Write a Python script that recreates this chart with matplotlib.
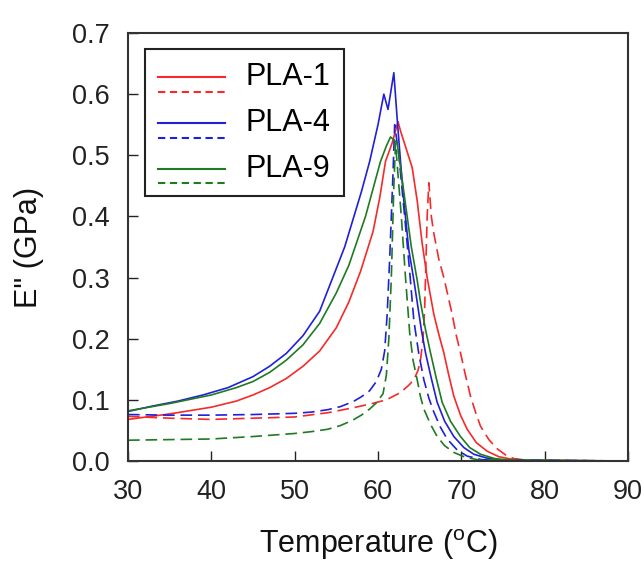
import matplotlib
matplotlib.use("Agg")
import matplotlib.pyplot as plt
from matplotlib.lines import Line2D
from matplotlib.legend_handler import HandlerBase

plt.rcParams['font.family'] = ['Liberation Sans', 'DejaVu Sans']
plt.rcParams['mathtext.fontset'] = 'custom'
plt.rcParams['mathtext.rm'] = 'Liberation Sans'

# ---------------- data ----------------
labels = ["PLA-1", "PLA-4", "PLA-9"]

t_pla1_solid = [30, 35, 40, 43, 45, 47, 49, 51, 53, 55, 56.5, 57.9, 59.4, 60.2, 60.9, 61.7, 62.4,
                62.7, 63.4, 64.1, 64.7, 65.3, 65.9, 66.3, 66.7, 67.3, 67.9, 68.5, 69.1, 69.9,
                70.7, 71.8, 73.1, 74.5, 76, 78, 90]
e_pla1_solid = [0.068, 0.077, 0.088, 0.098, 0.108, 0.120, 0.135, 0.155, 0.180, 0.218, 0.26, 0.31,
                0.375, 0.43, 0.49, 0.52, 0.555,
                0.54, 0.51, 0.48, 0.426, 0.356, 0.30, 0.27, 0.24, 0.207, 0.177, 0.14, 0.106, 0.075,
                0.052, 0.030, 0.016, 0.007, 0.003, 0.001, 0.0]

t_pla1_dash = [30, 35, 40, 45, 50, 54, 57, 59, 61, 62.7, 63.7, 64.3, 64.8, 65.1, 65.4, 65.6, 65.9,
               66.1, 66.4, 66.7, 67.3, 67.9, 68.4, 68.9, 69.4, 69.9, 70.5, 71.1, 71.7, 72.3,
               73.3, 74.3, 75.3, 76.3, 78, 90]
e_pla1_dash = [0.073, 0.070, 0.068, 0.070, 0.072, 0.079, 0.087, 0.093, 0.100, 0.112, 0.124, 0.133,
               0.148, 0.165, 0.20, 0.25, 0.40,
               0.455, 0.40, 0.372, 0.33, 0.30, 0.27, 0.24, 0.205, 0.177, 0.14, 0.106, 0.080, 0.057,
               0.035, 0.020, 0.010, 0.004, 0.001, 0.0]

t_pla4_solid = [30, 33, 36, 39, 42, 45, 47, 49, 51, 53, 55, 56, 57, 58, 59, 60, 60.7, 61.2, 61.9,
                62.3, 62.7, 63.1, 63.7, 64.3, 64.7, 65.2, 65.7, 66.4, 67.1, 68.0, 69.1, 70.3,
                71.5, 73, 75, 90]
e_pla4_solid = [0.081, 0.090, 0.098, 0.108, 0.120, 0.138, 0.155, 0.176, 0.205, 0.245, 0.315, 0.35,
                0.395, 0.44, 0.49, 0.55, 0.60, 0.575, 0.635,
                0.56, 0.49, 0.426, 0.345, 0.296, 0.26, 0.215, 0.177, 0.135, 0.096, 0.065, 0.040,
                0.022, 0.011, 0.005, 0.001, 0.0]

t_pla4_dash = [30, 35, 40, 45, 50, 52, 54, 55.5, 57, 58, 59, 59.8, 60.4, 60.8, 61.1, 61.4, 61.8,
               62.0, 62.5, 63.2, 63.8, 64.3, 64.9, 65.5, 66.1, 66.7, 67.5, 68.3, 69.5, 70.7,
               72.5, 90]
e_pla4_dash = [0.076, 0.075, 0.075, 0.076, 0.078, 0.080, 0.084, 0.089, 0.097, 0.105, 0.115, 0.130,
               0.150, 0.18, 0.24, 0.33, 0.47,
               0.55, 0.50, 0.40, 0.31, 0.23, 0.175, 0.133, 0.103, 0.080, 0.055, 0.036, 0.018,
               0.008, 0.002, 0.0]

t_pla9_solid = [30, 35, 40, 43, 45, 47, 49, 51, 53, 55, 56.5, 57.5, 58.5, 59.5, 60.3, 61.0, 61.5,
                62.3, 63.0, 63.5, 64.0, 64.7, 65.1, 65.7, 66.3, 67.0, 67.7, 68.7, 69.9, 71.0,
                72.3, 74, 76, 90]
e_pla9_solid = [0.082, 0.094, 0.108, 0.120, 0.130, 0.145, 0.165, 0.190, 0.225, 0.275, 0.32, 0.36,
                0.40, 0.45, 0.49, 0.515, 0.53,
                0.52, 0.45, 0.40, 0.35, 0.296, 0.26, 0.215, 0.177, 0.135, 0.096, 0.065, 0.040,
                0.022, 0.011, 0.004, 0.001, 0.0]

t_pla9_dash = [30, 35, 40, 45, 50, 52, 54, 55.5, 57, 58, 59, 59.8, 60.6, 61.0, 61.3, 61.6, 61.9,
               62.1, 62.8, 63.3, 63.8, 64.2, 64.7, 65.1, 65.5, 66.3, 67.1, 68.0, 69.1, 70.5,
               72, 90]
e_pla9_dash = [0.034, 0.035, 0.036, 0.040, 0.045, 0.048, 0.052, 0.058, 0.067, 0.075, 0.085, 0.095,
               0.110, 0.14, 0.20, 0.30, 0.45,
               0.52, 0.40, 0.30, 0.21, 0.165, 0.133, 0.105, 0.085, 0.060, 0.040, 0.025, 0.014,
               0.006, 0.002, 0.0]

x_ticks = [30, 40, 50, 60, 70, 80, 90]
y_ticks = [0.0, 0.1, 0.2, 0.3, 0.4, 0.5, 0.6, 0.7]

# ---------------- styling ----------------
c_red = '#f52a2a'
c_blue = '#2020d8'
c_green = '#1f7a22'
dash = (0, (7, 3.5))
lw = 1.2

fig = plt.figure(figsize=(6.44, 5.71), dpi=100)
ax = fig.add_axes([128 / 644, 1 - 461 / 571, 500 / 644, 428 / 571])

pairs = []
for (ts, es, td, ed, col) in [
    (t_pla1_solid, e_pla1_solid, t_pla1_dash, e_pla1_dash, c_red),
    (t_pla4_solid, e_pla4_solid, t_pla4_dash, e_pla4_dash, c_blue),
    (t_pla9_solid, e_pla9_solid, t_pla9_dash, e_pla9_dash, c_green),
]:
    l1, = ax.plot(ts, es, color=col, lw=lw)
    l2, = ax.plot(td, ed, color=col, lw=lw, linestyle=dash)
    pairs.append((l1, l2))


class PairHandler(HandlerBase):
    def create_artists(self, legend, orig_handle, xdescent, ydescent,
                       width, height, fontsize, trans):
        solid, dashed = orig_handle
        x0, x1 = -xdescent, -xdescent + width
        ys = -ydescent + 0.35 * height
        yd = -ydescent - 0.32 * height
        a = Line2D([x0, x1], [ys, ys], color=solid.get_color(), lw=1.5,
                   transform=trans)
        b = Line2D([x0, x1], [yd, yd], color=dashed.get_color(), lw=1.5,
                   linestyle=(0, (3.5, 2.2)), transform=trans)
        return [a, b]


leg = ax.legend(pairs, labels, handler_map={tuple: PairHandler()},
                loc='upper left', bbox_to_anchor=(0.034, 0.9626),
                prop={'size': 22}, handlelength=2.2, handletextpad=0.68,
                labelspacing=0.52, borderpad=0.42, borderaxespad=0.0,
                frameon=True, fancybox=False, framealpha=1, edgecolor='#222222')
leg.get_frame().set_linewidth(1.5)

ax.set_xlim(30, 90)
ax.set_ylim(0, 0.7)
ax.set_xticks(x_ticks)
ax.set_yticks(y_ticks)
ax.set_yticklabels([f"{v:.1f}" for v in y_ticks])
ax.tick_params(direction='in', length=7, width=1.0, labelsize=19.5, pad=13,
               colors='#222222')
for s in ax.spines.values():
    s.set_linewidth(1.5)
    s.set_color('#333333')

ax.set_xlabel(r'Temperature ($^{\rm o}$C)', fontsize=22, labelpad=16, color='#111111')
ax.set_ylabel('E" (GPa)', fontsize=22, labelpad=20, color='#111111')

fig.savefig('out.png', dpi=100)
